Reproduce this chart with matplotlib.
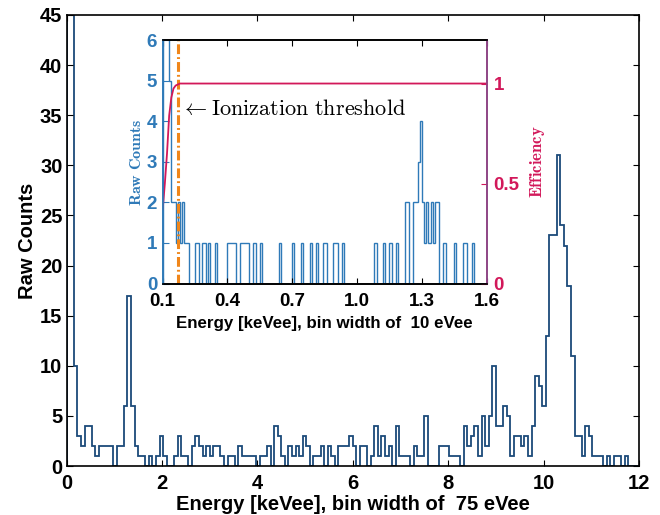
import numpy as np
import matplotlib.pyplot as plt

plt.rcParams['font.family'] = ['Liberation Sans', 'DejaVu Sans']
plt.rcParams['mathtext.fontset'] = 'cm'

# main spectrum: 75 eVee bins from 0 to 12 keVee
main_bin_width = 0.075
main_counts = [
    90, 46, 10, 3, 2, 4, 4, 2, 1, 2,
    2, 2, 2, 0, 2, 2, 6, 17, 6, 2,
    1, 1, 0, 1, 0, 1, 3, 1, 0, 0,
    1, 3, 1, 1, 0, 2, 3, 2, 1, 2,
    1, 2, 2, 1, 0, 1, 1, 0, 2, 1,
    1, 1, 1, 0, 1, 1, 2, 0, 4, 3,
    1, 0, 2, 1, 2, 1, 3, 2, 0, 1,
    1, 2, 0, 2, 1, 0, 2, 2, 2, 3,
    2, 0, 2, 2, 0, 1, 4, 1, 3, 1,
    2, 0, 4, 1, 1, 1, 0, 2, 1, 1,
    5, 0, 0, 0, 2, 2, 2, 1, 1, 1,
    0, 4, 2, 3, 4, 1, 5, 2, 5, 10,
    4, 4, 6, 5, 1, 3, 3, 2, 3, 1,
    4, 9, 8, 6, 13, 23, 23, 31, 24, 22,
    18, 11, 3, 3, 1, 4, 3, 1, 1, 1,
    0, 1, 0, 1, 1, 0, 1, 0, 0, 0,
]

# inset: 10 eVee bins from 0.1 to 1.6 keVee
inset_start = 0.1
inset_bin_width = 0.01
inset_counts = [
    14, 10, 7, 5, 2, 2, 1, 2, 1, 2,
    1, 1, 0, 0, 0, 1, 1, 0, 1, 1,
    0, 1, 0, 0, 1, 0, 0, 0, 0, 0,
    1, 1, 1, 1, 0, 0, 1, 1, 1, 1,
    0, 0, 1, 0, 0, 1, 0, 0, 0, 0,
    0, 0, 0, 0, 1, 0, 0, 0, 0, 0,
    1, 0, 0, 0, 1, 0, 0, 0, 1, 0,
    0, 1, 0, 0, 1, 1, 0, 0, 0, 1,
    1, 0, 0, 1, 0, 0, 0, 0, 0, 0,
    0, 0, 0, 0, 0, 0, 0, 0, 1, 0,
    0, 0, 1, 0, 0, 1, 0, 0, 1, 0,
    0, 0, 2, 2, 0, 0, 2, 2, 3, 4,
    2, 1, 2, 1, 2, 1, 2, 2, 0, 0,
    1, 0, 0, 0, 0, 1, 0, 0, 0, 1,
    1, 0, 0, 1, 0, 0, 0, 0, 0, 0,
]

# trigger efficiency curve
eff_energy = [0.10, 0.11, 0.12, 0.13, 0.14, 0.15, 0.16, 0.18, 1.60]
eff_value = [0.37, 0.50, 0.65, 0.84, 0.93, 0.975, 0.99, 1.0, 1.0]
threshold_energy = 0.171

main_color = '#1b4a7a'
inset_color = '#2f7ab8'
eff_color = '#d2185a'
thr_color = '#f0861a'

fig = plt.figure(figsize=(6.6, 5.15), dpi=100)

# ---- main panel
ax = fig.add_axes([0.101, 0.095, 0.867, 0.876])
main_edges = np.arange(len(main_counts) + 1) * main_bin_width
ax.stairs(main_counts, main_edges, color=main_color, lw=1.3)
ax.set_xlim(0, 12)
ax.set_ylim(0, 45)
ax.set_xticks(range(0, 13, 2))
ax.set_yticks(range(0, 46, 5))
ax.tick_params(direction='in', top=True, right=True, length=4, width=0.8,
               labelsize=14.5)
ax.tick_params(axis='x', pad=6)
ax.tick_params(axis='y', pad=3)
for lab in ax.get_xticklabels() + ax.get_yticklabels():
    lab.set_fontweight('bold')
for s in ax.spines.values():
    s.set_linewidth(1.2)
ax.set_xlabel('Energy [keVee], bin width of  75 eVee', fontsize=14.5,
              fontweight='bold', labelpad=1)
ax.set_ylabel('Raw Counts', fontsize=14.5, fontweight='bold', labelpad=2)

# ---- inset
axi = fig.add_axes([0.2465, 0.4495, 0.4909, 0.4724])
inset_edges = inset_start + np.arange(len(inset_counts) + 1) * inset_bin_width
axi.stairs(inset_counts, inset_edges, color=inset_color, lw=1.0)
axi.axvline(threshold_energy, color=thr_color, lw=2.2,
            dashes=(3.2, 1.0, 0.6, 1.0))
axi.set_xlim(0.1, 1.6)
axi.set_ylim(0, 6)
axi.set_xticks([0.1, 0.4, 0.7, 1.0, 1.3, 1.6])
axi.set_xticklabels(['0.1', '0.4', '0.7', '1.0', '1.3', '1.6'])
axi.set_yticks(range(0, 7))
axi.tick_params(direction='in', top=True, right=True, length=4, width=0.8,
                labelsize=13.5)
axi.tick_params(axis='x', pad=7)
axi.tick_params(axis='y', colors=inset_color, pad=4)
for lab in axi.get_xticklabels() + axi.get_yticklabels():
    lab.set_fontweight('bold')
axi.set_xlabel('Energy [keVee], bin width of  10 eVee', fontsize=12.2,
               fontweight='bold', labelpad=4)
axi.set_ylabel(r'$\mathbf{Raw\ Counts}$', fontsize=11.5, color=inset_color,
               labelpad=2)
axi.spines['left'].set_color(inset_color)
axi.spines['right'].set_color('#8e4585')
for s in axi.spines.values():
    s.set_linewidth(1.2)

axe = axi.twinx()
axe.plot(eff_energy, eff_value, color=eff_color, lw=1.3)
axe.set_ylim(0, 6 / 4.932)
axe.set_yticks([0, 0.5, 1])
axe.set_yticklabels(['0', '0.5', '1'])
axe.tick_params(direction='in', length=4, width=0.8, labelsize=13.5,
                colors=eff_color, pad=5)
for lab in axe.get_yticklabels():
    lab.set_fontweight('bold')
axe.set_ylabel(r'$\mathbf{Efficiency}$', fontsize=12, color=eff_color,
               labelpad=6)
axe.spines['right'].set_color('#8e4585')
axe.spines['left'].set_color(inset_color)
for s in axe.spines.values():
    s.set_linewidth(1.2)

axi.text(0.185, 4.3, r'$\leftarrow \mathrm{Ionization\ threshold}$',
         fontsize=16, va='center', ha='left', color='black')

fig.savefig('out.png', dpi=100)
